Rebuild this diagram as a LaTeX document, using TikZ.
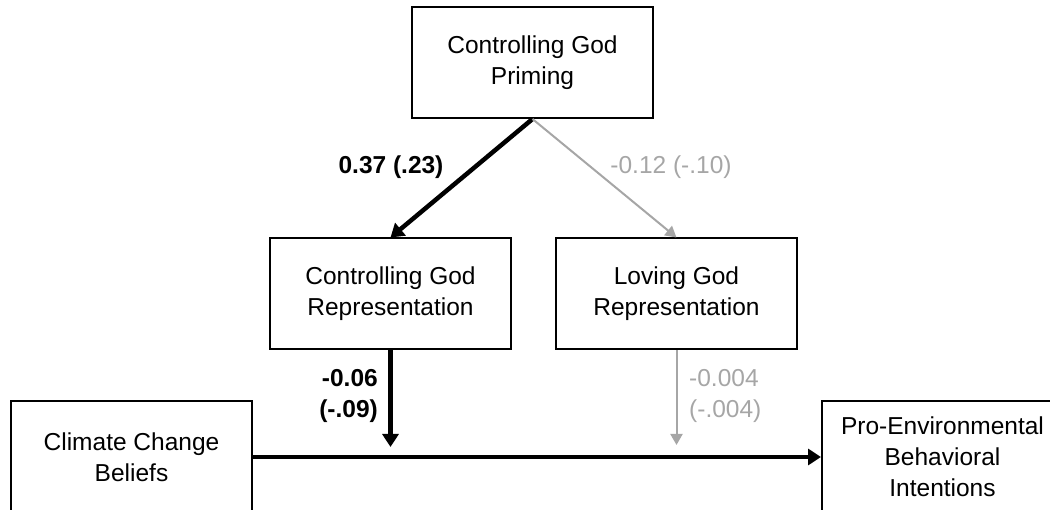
\documentclass[tikz,border=0pt]{standalone}
\usepackage{fontspec}
\setmainfont{Liberation Sans}
\usetikzlibrary{arrows.meta}
\definecolor{lightgr}{HTML}{A6A6A6}
\tikzset{
  box/.style={draw=black, line width=2pt, minimum width=241pt, minimum height=111pt, inner sep=0pt, align=center, font=\fontsize{24.5}{31}\selectfont},
  strong/.style={line width=4.5pt, -{Triangle[length=13pt,width=16pt]}},
  weak/.style={draw=lightgr, line width=2pt, -{Triangle[length=11pt,width=12pt]}},
  lab/.style={font=\fontsize{24.5}{31}\selectfont, inner sep=0pt},
  strlab/.style={lab, font=\fontsize{24.5}{31}\selectfont\bfseries},
  weaklab/.style={lab, text=lightgr}
}
\begin{document}
\begin{tikzpicture}[x=1pt,y=-1pt]
\useasboundingbox (0,0) rectangle (1050,510);
\clip (0,0) rectangle (1050,510);
\node[box] (prime) at (532.5,62.5) {Controlling God\\Priming};
\node[box] (cgr) at (390.5,294) {Controlling God\\Representation};
\node[box] (lgr) at (676.5,294) {Loving God\\Representation};
\node[box] (ccb) at (131.5,457) {Climate Change\\Beliefs};
\node[box] (peb) at (942.5,457) {Pro-Environmental\\Behavioral\\Intentions};
\coordinate (m1) at (390.5,447);
\coordinate (m2) at (676.5,445);
\draw[strong] (prime.south) -- (cgr.north);
\draw[weak] (prime.south) -- (lgr.north);
\draw[strong] (cgr.south) -- (m1);
\draw[weak] (lgr.south) -- (m2);
\draw[strong] (ccb.east |- 0,457) -- (peb.west);
\node[strlab] (l1) at (391,167) {0.37 (.23)};
\node[weaklab] (l2) at (671,167) {-0.12 (-.10)};
\node[strlab, anchor=east, align=right] (l3) at (378,396) {-0.06\\(-.09)};
\node[weaklab, anchor=west, align=left] (l4) at (689,396) {-0.004\\(-.004)};
\end{tikzpicture}
\end{document}
